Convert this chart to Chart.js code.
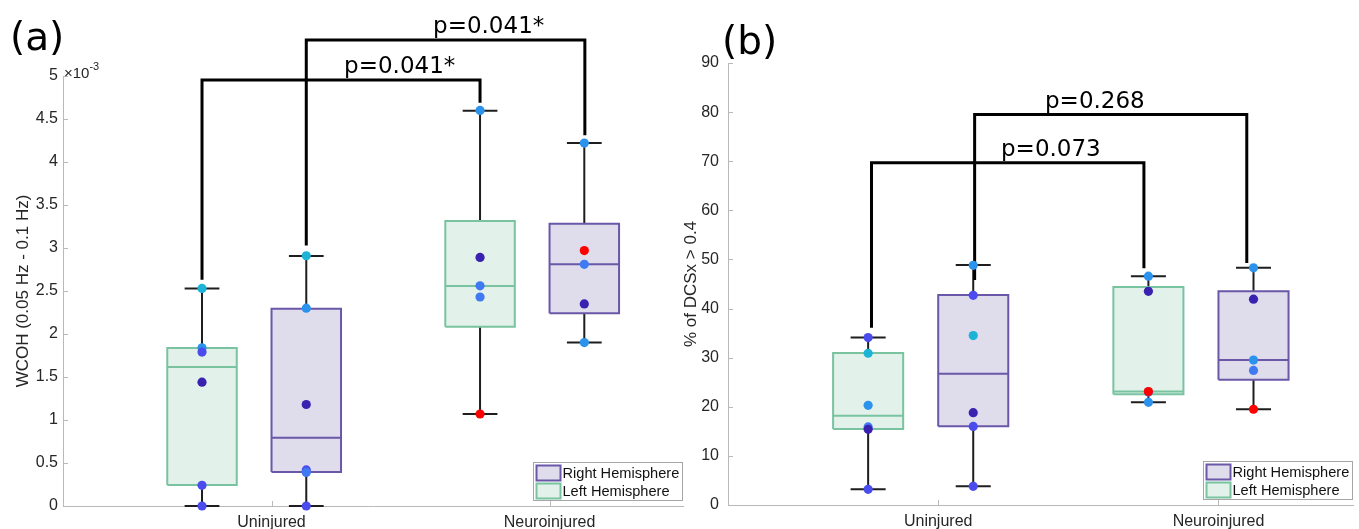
<!DOCTYPE html>
<html><head><meta charset="utf-8">
<script src="https://cdn.jsdelivr.net/npm/chart.js@4.4.1/dist/chart.umd.min.js"></script>
<style>
html,body{margin:0;padding:0;background:#fff;width:1359px;height:529px;overflow:hidden}
#ca{position:absolute;left:0;top:0}
#cb{position:absolute;left:680px;top:0}
</style></head><body>
<canvas id="ca" width="700" height="529"></canvas>
<canvas id="cb" width="679" height="529"></canvas>
<script>
// ---------------- data ----------------
const categories = ['Uninjured', 'Neuroinjured'];
const legendLabels = ['Right Hemisphere', 'Left Hemisphere'];
// groups: [Uninjured-Left, Uninjured-Right, Neuroinjured-Left, Neuroinjured-Right]
const groupCategory = [1, 1, 2, 2];
const groupSide = ['left', 'right', 'left', 'right'];

// Panel (a): WCOH (0.05 Hz - 0.1 Hz)
const wcohLower  = [0.000e-3, 0.000e-3, 1.070e-3, 1.900e-3];
const wcohQ1     = [0.244e-3, 0.395e-3, 2.085e-3, 2.240e-3];
const wcohMedian = [1.616e-3, 0.794e-3, 2.558e-3, 2.810e-3];
const wcohQ3     = [1.837e-3, 2.294e-3, 3.314e-3, 3.283e-3];
const wcohUpper  = [2.530e-3, 2.907e-3, 4.597e-3, 4.220e-3];
const wcohPoints = [
  [2.53e-3, 1.84e-3, 1.79e-3, 1.44e-3, 0.24e-3, 0.00e-3],
  [2.91e-3, 2.30e-3, 1.18e-3, 0.42e-3, 0.39e-3, 0.00e-3],
  [4.60e-3, 2.89e-3, 2.56e-3, 2.43e-3, 1.07e-3],
  [4.22e-3, 2.97e-3, 2.81e-3, 2.35e-3, 1.90e-3]
];
const wcohPValues = ['p=0.041*', 'p=0.041*'];
const wcohBracketY = [4.953e-3, 5.419e-3];
const wcohBracketStartY = [2.63e-3, 3.03e-3];
const wcohBracketEndY = [4.69e-3, 4.31e-3];
const wcohYTicks = [0, 0.5e-3, 1e-3, 1.5e-3, 2e-3, 2.5e-3, 3e-3, 3.5e-3, 4e-3, 4.5e-3, 5e-3];

// Panel (b): % of DCSx > 0.4
const dcsLower  = [3.2, 3.8, 20.9, 19.5];
const dcsQ1     = [15.45, 16.05, 22.56, 25.5];
const dcsMedian = [18.15, 26.7, 23.1, 29.5];
const dcsQ3     = [30.95, 42.75, 44.4, 43.5];
const dcsUpper  = [34.1, 48.85, 46.6, 48.3];
const dcsPoints = [
  [34.1, 30.9, 20.3, 15.9, 15.4, 3.2],
  [48.8, 42.7, 34.5, 18.8, 16.0, 3.8],
  [46.6, 43.5, 23.0, 23.1, 20.9],
  [48.3, 41.9, 29.5, 27.4, 19.5]
];
const dcsPValues = ['p=0.073', 'p=0.268'];
const dcsBracketY = [69.7, 79.5];
const dcsBracketStartY = [36.1, 45.8];
const dcsBracketEndY = [48.2, 49.3];
const dcsYTicks = [0, 10, 20, 30, 40, 50, 60, 70, 80, 90];

// ---------------- styles / layout ----------------
const palette = {cyan:'#1cb3d6', sky:'#2c93ec', blue:'#3f7af2', violet:'#4a4cee', indigo:'#3a22b0', red:'#ff0000'};
const wcohPointColors = [
  ['cyan','sky','violet','indigo','violet','violet'],
  ['cyan','sky','indigo','violet','blue','violet'],
  ['sky','indigo','blue','blue','red'],
  ['sky','red','blue','indigo','sky']
];
const dcsPointColors = [
  ['violet','cyan','sky','blue','indigo','violet'],
  ['sky','violet','cyan','indigo','violet','violet'],
  ['sky','indigo','blue','red','sky'],
  ['sky','indigo','sky','blue','red']
];
const sideOffset = {left:-0.25, right:0.125};
const boxHalf = 0.125, capHalf = 0.0625;
const boxStyle = {
  left:  {fill:'#e2f1e9', border:'#79c3a1'},
  right: {fill:'#dfdcec', border:'#6a57a8'}
};
const axisColor = '#b9b9b9';
const textColor = '#262626';
const tickFont = {family:'"Liberation Sans", Arial, sans-serif', size:16};
const titleFont = {family:'"Liberation Sans", Arial, sans-serif', size:17};
const pFont = '23px "DejaVu Sans", Verdana, sans-serif';

function buildPanel(canvasId, P) {
  const centers = groupCategory.map((c, g) => c + sideOffset[groupSide[g]]);
  const ds = [];
  // whiskers + caps
  const wh = [];
  centers.forEach((cx, g) => {
    wh.push({x:cx, y:P.lower[g]}, {x:cx, y:P.upper[g]}, {x:cx, y:null});
    wh.push({x:cx-capHalf, y:P.upper[g]}, {x:cx+capHalf, y:P.upper[g]}, {x:cx, y:null});
    wh.push({x:cx-capHalf, y:P.lower[g]}, {x:cx+capHalf, y:P.lower[g]}, {x:cx, y:null});
  });
  ds.push({data:wh, showLine:true, spanGaps:false, borderColor:'#1e1e1e', borderWidth:2, pointRadius:0, order:5, clip:false});
  // boxes
  centers.forEach((cx, g) => {
    const st = boxStyle[groupSide[g]];
    ds.push({data:[{x:cx-boxHalf,y:P.q1[g]},{x:cx+boxHalf,y:P.q1[g]},{x:cx+boxHalf,y:P.q3[g]},{x:cx-boxHalf,y:P.q3[g]},{x:cx-boxHalf,y:P.q1[g]}],
      showLine:true, fill:'shape', backgroundColor:st.fill, borderColor:st.border, borderWidth:2,
      borderJoinStyle:'miter', pointRadius:0, order:4});
    ds.push({data:[{x:cx-boxHalf,y:P.median[g]},{x:cx+boxHalf,y:P.median[g]}],
      showLine:true, borderColor:st.border, borderWidth:2, pointRadius:0, order:3});
  });
  // brackets
  P.bracketX1.forEach((x1, i) => {
    const x2 = P.bracketX2[i];
    ds.push({data:[{x:x1,y:P.bStart[i]},{x:x1,y:P.bY[i]},{x:x2,y:P.bY[i]},{x:x2,y:P.bEnd[i]}],
      showLine:true, borderColor:'#000', borderWidth:3, borderJoinStyle:'miter', pointRadius:0, order:1, clip:false});
  });
  // points
  const pts = [], cols = [];
  P.points.forEach((arr, g) => arr.forEach((v, k) => { pts.push({x:centers[g], y:v}); cols.push(palette[P.colors[g][k]]); }));
  ds.push({data:pts, pointRadius:4.6, pointBackgroundColor:cols, pointBorderWidth:0, showLine:false, order:0, clip:false});

  const decor = {
    id:'decor'+canvasId,
    afterDraw(chart) {
      const ctx = chart.ctx, xs = chart.scales.x, ys = chart.scales.y, a = chart.chartArea;
      ctx.save();
      // inward tick marks
      ctx.strokeStyle = axisColor; ctx.lineWidth = 1;
      ctx.beginPath();
      P.yTicks.forEach(v => { const y = Math.round(ys.getPixelForValue(v)) + 0.5; ctx.moveTo(a.left, y); ctx.lineTo(a.left + 5, y); });
      [1, 2].forEach(v => { const x = Math.round(xs.getPixelForValue(v)) + 0.5; ctx.moveTo(x, a.bottom); ctx.lineTo(x, a.bottom - 5); });
      ctx.stroke();
      // p-value labels
      ctx.fillStyle = '#000'; ctx.font = pFont; ctx.textAlign = 'center'; ctx.textBaseline = 'alphabetic';
      P.pValues.forEach((t, i) => {
        ctx.fillText(t, xs.getPixelForValue(P.pLabelX[i]), ys.getPixelForValue(P.bY[i]) - 7);
      });
      // panel letter
      ctx.font = '39px "DejaVu Sans", Verdana, sans-serif'; ctx.textAlign = 'left';
      ctx.fillText(P.letter, P.letterPos[0], P.letterPos[1]);
      // exponent
      if (P.exponent) {
        ctx.fillStyle = textColor; ctx.font = '15px "Liberation Sans", Arial, sans-serif';
        ctx.fillText('\u00d710', a.left + 1, a.top + 2);
        const w = ctx.measureText('\u00d710').width;
        ctx.font = '11px "Liberation Sans", Arial, sans-serif';
        ctx.fillText('-3', a.left + 1 + w, a.top - 6);
      }
      // legend
      const lw = 149, lh = 38;
      const lx = Math.round(a.right - 1.5 - lw) + 0.5, ly = Math.round(a.bottom - 6 - lh) + 0.5;
      ctx.fillStyle = '#fff'; ctx.fillRect(lx, ly, lw, lh);
      ctx.strokeStyle = '#a6a6a6'; ctx.lineWidth = 1; ctx.strokeRect(lx, ly, lw, lh);
      ['right', 'left'].forEach((s, i) => {
        const sy = ly + 3 + i * 18;
        ctx.fillStyle = boxStyle[s].fill; ctx.fillRect(lx + 3, sy, 24, 15);
        ctx.strokeStyle = boxStyle[s].border; ctx.lineWidth = 2; ctx.strokeRect(lx + 3, sy, 24, 15);
        ctx.fillStyle = '#111'; ctx.font = '14.6px "Liberation Sans", Arial, sans-serif';
        ctx.textBaseline = 'middle';
        ctx.fillText(legendLabels[i], lx + 29, sy + 8);
        ctx.textBaseline = 'alphabetic';
      });
      ctx.restore();
    }
  };

  return new Chart(document.getElementById(canvasId), {
    type:'scatter',
    data:{datasets:ds},
    options:{
      responsive:false, animation:false, devicePixelRatio:1, events:[],
      layout:{padding:P.padding},
      plugins:{legend:{display:false}, tooltip:{enabled:false}},
      scales:{
        x:{type:'linear', min:0.25, max:2.48,
          afterBuildTicks:s => { s.ticks = [{value:1},{value:2}]; },
          afterFit:s => { s.height = P.xAxisHeight; },
          grid:{display:false, drawTicks:false}, border:{display:true, color:axisColor, width:1},
          ticks:{callback:v => categories[v-1], color:textColor, font:tickFont, padding:7, maxRotation:0, autoSkip:false}},
        y:{type:'linear', min:P.yMin, max:P.yMax,
          afterBuildTicks:s => { s.ticks = P.yTicks.map(v => ({value:v})); },
          afterFit:s => { s.width = P.yAxisWidth; },
          grid:{display:false, drawTicks:false}, border:{display:true, color:axisColor, width:1},
          title:{display:true, text:P.yTitle, color:textColor, font:titleFont, padding:{top:P.titlePad, bottom:0}},
          ticks:{callback:P.tickFmt, color:textColor, font:tickFont, padding:P.yTickPad, autoSkip:false}}
      }
    },
    plugins:[decor]
  });
}

buildPanel('ca', {
  lower:wcohLower, q1:wcohQ1, median:wcohMedian, q3:wcohQ3, upper:wcohUpper,
  points:wcohPoints, colors:wcohPointColors,
  bracketX1:[0.75, 1.125], bracketX2:[1.75, 2.127],
  bY:wcohBracketY, bStart:wcohBracketStartY, bEnd:wcohBracketEndY,
  pValues:wcohPValues, pLabelX:[1.461, 1.781],
  yMin:0, yMax:5e-3, yTicks:wcohYTicks, tickFmt:v => String(Math.round(v*1e4)/10),
  yTitle:'WCOH (0.05 Hz - 0.1 Hz)', titlePad:13, yTickPad:5,
  padding:{top:76, right:17, left:0, bottom:0}, yAxisWidth:63, xAxisHeight:23,
  letter:'(a)', letterPos:[10, 50], exponent:true
});
buildPanel('cb', {
  lower:dcsLower, q1:dcsQ1, median:dcsMedian, q3:dcsQ3, upper:dcsUpper,
  points:dcsPoints, colors:dcsPointColors,
  bracketX1:[0.762, 1.13], bracketX2:[1.734, 2.101],
  bY:dcsBracketY, bStart:dcsBracketStartY, bEnd:dcsBracketEndY,
  pValues:dcsPValues, pLabelX:[1.402, 1.559],
  yMin:0, yMax:90, yTicks:dcsYTicks, tickFmt:v => String(v),
  yTitle:'% of DCSx > 0.4', titlePad:1, yTickPad:9,
  padding:{top:63, right:6, left:0, bottom:0}, yAxisWidth:48, xAxisHeight:24,
  letter:'(b)', letterPos:[42, 54], exponent:false
});
</script>
</body></html>
